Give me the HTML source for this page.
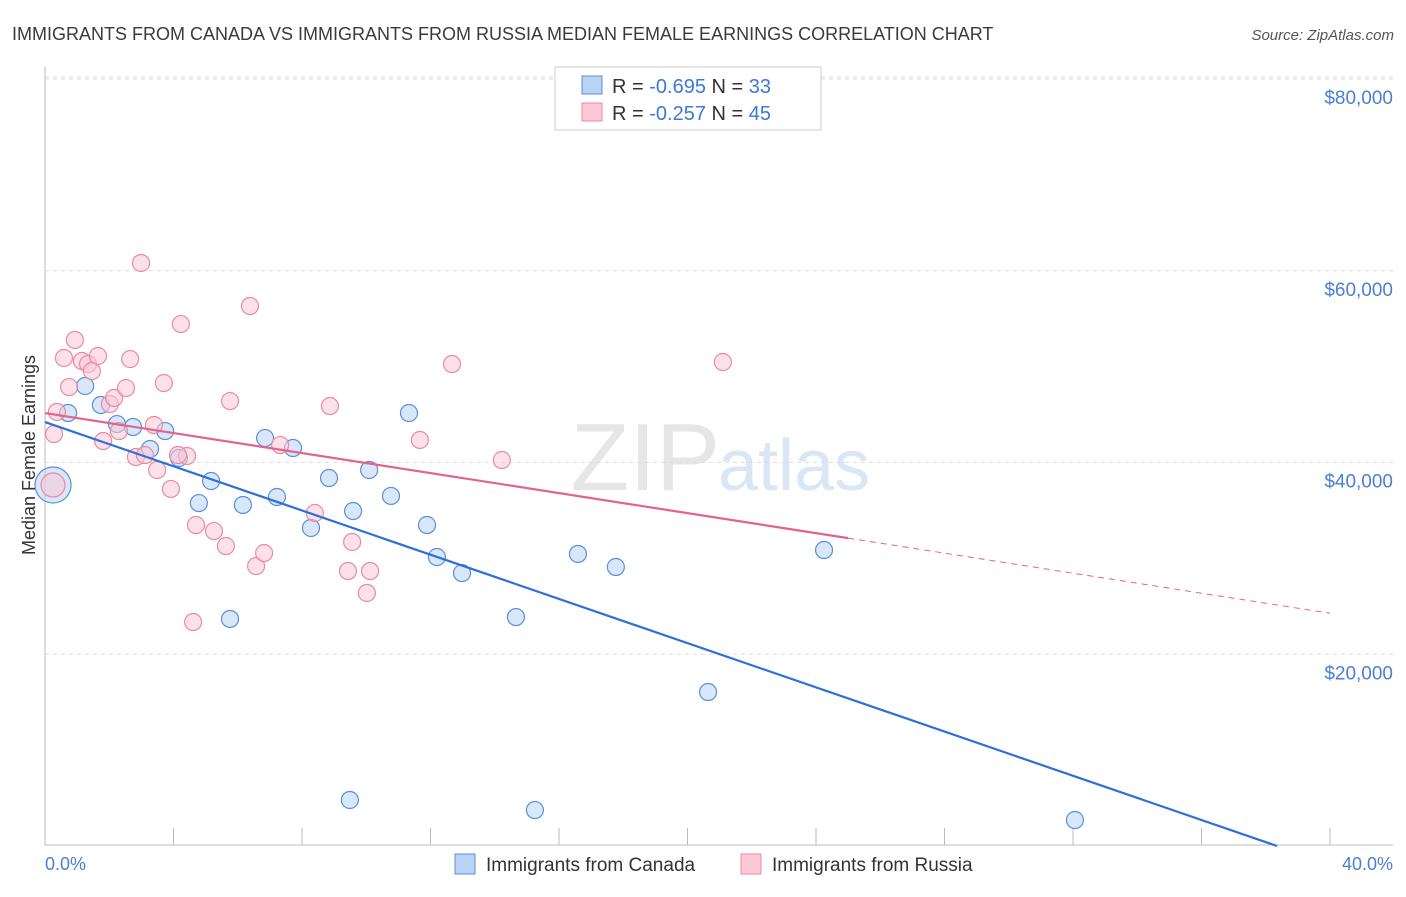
<!DOCTYPE html>
<html><head><meta charset="utf-8"><style>
body{margin:0;background:#fff;font-family:"Liberation Sans",sans-serif;}
svg text{font-family:"Liberation Sans",sans-serif;}
</style></head><body>
<svg id="c" width="1406" height="892">
<text x="12" y="40" font-size="18" fill="#3a3a3a">IMMIGRANTS FROM CANADA VS IMMIGRANTS FROM RUSSIA MEDIAN FEMALE EARNINGS CORRELATION CHART</text>
<text x="1394" y="40" font-size="15" fill="#555" text-anchor="end" font-style="italic">Source: ZipAtlas.com</text>
<text x="720" y="490" font-size="96" fill="#e6e6e6" text-anchor="end" font-family="Liberation Serif">ZIP</text>
<text x="718" y="490" font-size="72" fill="#dbe6f5">atlas</text>
<g id="grid"></g><g id="pts"></g><g id="lines"></g>
<text x="35" y="455" font-size="18" fill="#333" text-anchor="middle" transform="rotate(-90 35 455)">Median Female Earnings</text>
<text x="45" y="870" font-size="18" fill="#4a7fd4">0.0%</text>
<text x="1393" y="870" font-size="18" fill="#4a7fd4" text-anchor="end">40.0%</text>
<g>
<rect x="555" y="67" width="266" height="63" fill="#fff" stroke="#ccc"/>
<rect x="582" y="76" width="20" height="18" fill="#b9d3f5" stroke="#5b8fd8"/>
<rect x="582" y="103" width="20" height="18" fill="#fbc9d6" stroke="#e88aa6"/>
<text x="612" y="93" font-size="20" fill="#333">R = <tspan fill="#3d78d8">-0.695</tspan>   N = <tspan fill="#3d78d8">33</tspan></text>
<text x="612" y="120" font-size="20" fill="#333">R = <tspan fill="#3d78d8">-0.257</tspan>   N = <tspan fill="#3d78d8">45</tspan></text>
</g>
<g>
<rect x="455" y="854" width="20" height="20" fill="#b9d3f5" stroke="#5b8fd8"/>
<text x="486" y="871" font-size="19" fill="#333">Immigrants from Canada</text>
<rect x="741" y="854" width="20" height="20" fill="#fbc9d6" stroke="#e88aa6"/>
<text x="772" y="871" font-size="19" fill="#333">Immigrants from Russia</text>
</g>
</svg>
<script>
const yTicks=[20000,40000,60000,80000];
const yTickLabels=["$20,000","$40,000","$60,000","$80,000"];
const xTicks=[4,8,12,16,20,24,28,32,36,40];
const canadaX=[0.25,0.72,1.25,1.74,2.24,2.74,3.27,3.74,4.17,4.79,5.17,6.16,6.85,7.22,7.72,8.28,8.84,9.59,10.09,10.77,11.33,11.89,12.20,12.98,14.66,16.59,17.77,20.64,24.25,32.06,15.25,9.49,5.76];
const canadaY=[37650,45160,47980,46000,44010,43700,41410,43280,40470,35770,38070,35570,42550,36400,41510,33170,38380,34940,39220,36510,45160,33480,30140,28470,23880,30460,29100,16060,30870,2710,3750,4800,23680];
const russiaX=[0.25,0.37,0.28,0.59,0.75,0.93,1.15,1.34,1.46,1.65,1.81,2.02,2.15,2.30,2.52,2.65,2.83,2.99,3.11,3.39,3.49,3.70,3.92,4.23,4.42,4.61,4.70,5.26,5.63,5.76,6.38,6.57,6.82,7.32,8.40,8.87,9.43,9.56,10.02,10.12,11.67,12.67,14.22,21.10,4.14];
const russiaY=[37650,45270,42970,50900,47870,52780,50590,50270,49540,51110,42240,46100,46730,43280,47770,50790,40570,60810,40780,43910,39220,48290,37240,54440,40680,23360,33480,32850,31290,46410,56320,29200,30560,41820,34730,45890,28680,31710,26390,28680,42350,50270,40260,50480,40780];
const canadaLine=[44220,-1153];  // intercept, slope per %
const russiaLine=[45160,-522];
const russiaSolidEnd=25;
const NS="http://www.w3.org/2000/svg";
const X=v=>45+v/40*1285, Y=v=>846-v/20000*191.75;
function mk(t,a,p){const e=document.createElementNS(NS,t);for(const k in a)e.setAttribute(k,a[k]);p.appendChild(e);return e;}
const g=document.getElementById('grid');
mk('line',{x1:45,y1:67,x2:45,y2:845,stroke:'#bbb'},g);
mk('line',{x1:45,y1:845,x2:1393,y2:845,stroke:'#bbb'},g);
yTicks.forEach((t,i)=>{
 const l=mk('line',{x1:45,y1:Y(t),x2:1393,y2:Y(t),stroke:'#ddd','stroke-dasharray':'4,4'},g);
 
 
 const tx=mk('text',{x:1393,y:Y(t)+25,'font-size':19,fill:'#4a7fd4','text-anchor':'end'},g);
 tx.textContent=yTickLabels[i];
 
 
});
mk('line',{x1:45,y1:Y(80000)-2,x2:1393,y2:Y(80000)-2,stroke:'#ddd','stroke-dasharray':'4,4'},g);
xTicks.forEach(t=>{
 const l=mk('line',{x1:X(t),y1:828,x2:X(t),y2:845,stroke:'#bbb'},g);
 
 
});
const p=document.getElementById('pts');
function dot(x,y,i,big,fill,stroke,name){
 const c=mk('circle',{cx:X(x),cy:Y(y),r:i===0?big:8.5,fill:fill,'fill-opacity':0.55,stroke:stroke,'stroke-width':1.2},p);
 
 
}
canadaX.forEach((x,i)=>dot(x,canadaY[i],i,18,'#b9d3f5','#5b8fd8','canada-point'));
russiaX.forEach((x,i)=>dot(x,russiaY[i],i,12,'#fbc9d6','#e88aa6','russia-point'));
const L=document.getElementById('lines');
const xEnd=-canadaLine[0]/canadaLine[1];
const cl=mk('line',{x1:X(0),y1:Y(canadaLine[0]),x2:X(xEnd),y2:Y(0),stroke:'#2f6fd8','stroke-width':2.2},L);


const rv=x=>russiaLine[0]+russiaLine[1]*x;
const rl=mk('line',{x1:X(0),y1:Y(rv(0)),x2:X(russiaSolidEnd),y2:Y(rv(russiaSolidEnd)),stroke:'#e2648c','stroke-width':2.2},L);


const rd=mk('line',{x1:X(russiaSolidEnd),y1:Y(rv(russiaSolidEnd)),x2:X(40),y2:Y(rv(40)),stroke:'#e2648c','stroke-width':1,'stroke-dasharray':'6,5'},L);


</script>
</body></html>
